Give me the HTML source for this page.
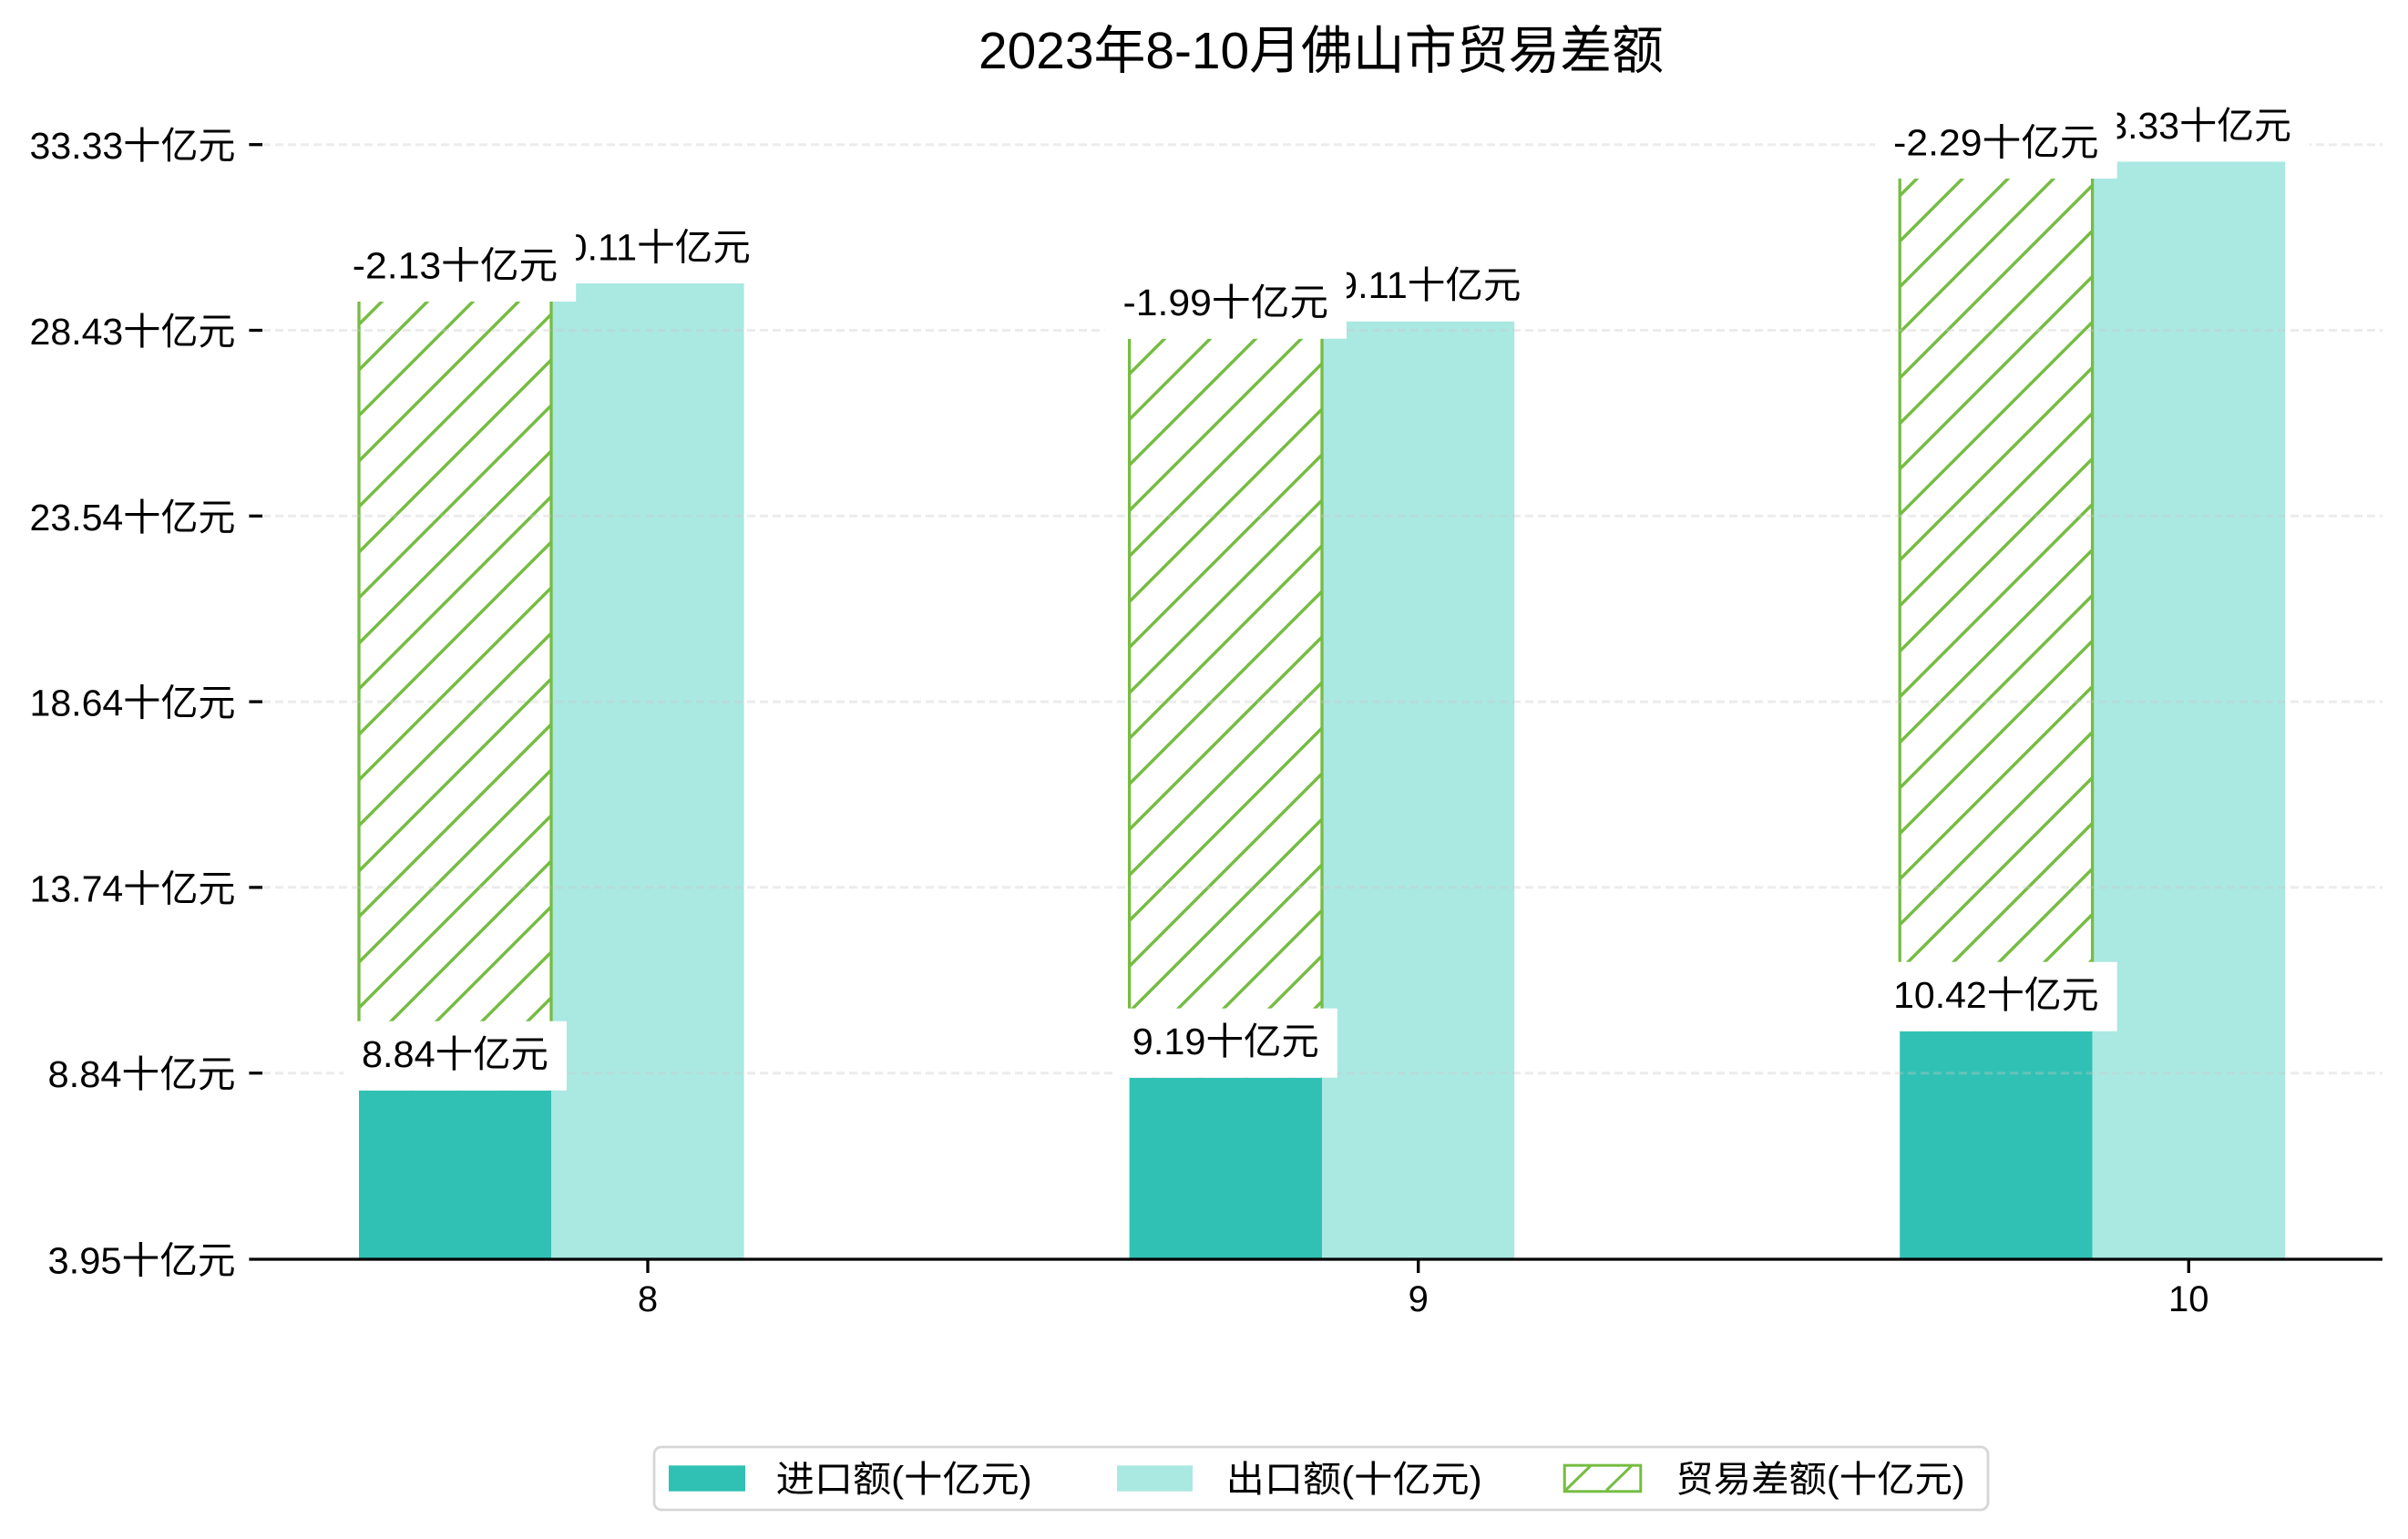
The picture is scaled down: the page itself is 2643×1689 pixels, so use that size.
<!DOCTYPE html>
<html>
<head>
<meta charset="utf-8">
<style>
  html, body { margin: 0; padding: 0; background: #ffffff; }
  svg { display: block; }
  text { font-family: "Liberation Sans", "Noto Sans CJK SC", sans-serif; fill: #000; }
</style>
</head>
<body>
<svg width="2643" height="1689" viewBox="0 0 2643 1689" xmlns="http://www.w3.org/2000/svg">
  <defs>
    <pattern id="hatch" patternUnits="userSpaceOnUse" width="50" height="50">
      <path d="M0,50 L50,0 M-10,10 L10,-10 M40,60 L60,40" stroke="#76bc43" stroke-width="3.5" fill="none"/>
    </pattern>
  </defs>
  <rect x="0" y="0" width="2643" height="1689" fill="#ffffff"/>

  <!-- Title -->
  <text x="1450" y="75" font-size="57" text-anchor="middle" textLength="752" lengthAdjust="spacingAndGlyphs">2023年8-10月佛山市贸易差额</text>

  <!-- Bars group 8 -->
  <rect x="394" y="1196.7" width="211" height="185.3" fill="#30c1b4"/>
  <rect x="394" y="331" width="211" height="865.7" fill="#ffffff"/>
  <rect x="394" y="331" width="211" height="865.7" fill="url(#hatch)"/>
  <rect x="605" y="311" width="211.6" height="1071" fill="#aae8e2"/>
  <line x1="394" y1="331" x2="394" y2="1196.7" stroke="#76bc43" stroke-width="3.3"/>
  <line x1="605" y1="331" x2="605" y2="1196.7" stroke="#76bc43" stroke-width="3.3"/>

  <!-- Bars group 9 -->
  <rect x="1239.6" y="1182.7" width="211.4" height="199.3" fill="#30c1b4"/>
  <rect x="1239.6" y="371.7" width="211.4" height="811" fill="#ffffff"/>
  <rect x="1239.6" y="371.7" width="211.4" height="811" fill="url(#hatch)"/>
  <rect x="1451" y="352.7" width="211.2" height="1029.3" fill="#aae8e2"/>
  <line x1="1239.6" y1="371.7" x2="1239.6" y2="1182.7" stroke="#76bc43" stroke-width="3.3"/>
  <line x1="1451" y1="371.7" x2="1451" y2="1182.7" stroke="#76bc43" stroke-width="3.3"/>

  <!-- Bars group 10 -->
  <rect x="2085.2" y="1131.7" width="211.4" height="250.3" fill="#30c1b4"/>
  <rect x="2085.2" y="196" width="211.4" height="935.7" fill="#ffffff"/>
  <rect x="2085.2" y="196" width="211.4" height="935.7" fill="url(#hatch)"/>
  <rect x="2296.6" y="177.3" width="211.4" height="1204.7" fill="#aae8e2"/>
  <line x1="2085.2" y1="196" x2="2085.2" y2="1131.7" stroke="#76bc43" stroke-width="3.3"/>
  <line x1="2296.6" y1="196" x2="2296.6" y2="1131.7" stroke="#76bc43" stroke-width="3.3"/>

  <!-- Gridlines -->
  <g stroke="#c8c8c8" stroke-opacity="0.35" stroke-width="3" stroke-dasharray="9 5">
    <line x1="288" y1="158.7" x2="2615" y2="158.7"/>
    <line x1="288" y1="362.5" x2="2615" y2="362.5"/>
    <line x1="288" y1="566.3" x2="2615" y2="566.3"/>
    <line x1="288" y1="770.1" x2="2615" y2="770.1"/>
    <line x1="288" y1="973.9" x2="2615" y2="973.9"/>
    <line x1="288" y1="1177.7" x2="2615" y2="1177.7"/>
  </g>

  <!-- Export labels -->
  <rect x="578.2" y="235" width="265.5" height="76" fill="#ffffff"/>
  <text x="711" y="285.5" font-size="41" text-anchor="middle" textLength="225.5" lengthAdjust="spacingAndGlyphs">30.11十亿元</text>
  <rect x="1424" y="276.7" width="265.5" height="76" fill="#ffffff"/>
  <text x="1556.7" y="327.2" font-size="41" text-anchor="middle" textLength="225.5" lengthAdjust="spacingAndGlyphs">29.11十亿元</text>
  <rect x="2269.5" y="101.3" width="265.5" height="76" fill="#ffffff"/>
  <text x="2402.3" y="151.8" font-size="41" text-anchor="middle" textLength="225.5" lengthAdjust="spacingAndGlyphs">33.33十亿元</text>

  <!-- Balance labels -->
  <rect x="366.7" y="255" width="265.5" height="76" fill="#ffffff"/>
  <text x="499.5" y="305.5" font-size="41" text-anchor="middle" textLength="225.5" lengthAdjust="spacingAndGlyphs">-2.13十亿元</text>
  <rect x="1212.5" y="295.7" width="265.5" height="76" fill="#ffffff"/>
  <text x="1345.3" y="346.2" font-size="41" text-anchor="middle" textLength="225.5" lengthAdjust="spacingAndGlyphs">-1.99十亿元</text>
  <rect x="2058.2" y="120" width="265.5" height="76" fill="#ffffff"/>
  <text x="2190.9" y="170.5" font-size="41" text-anchor="middle" textLength="225.5" lengthAdjust="spacingAndGlyphs">-2.29十亿元</text>

  <!-- Import labels -->
  <rect x="377" y="1120.7" width="245" height="76" fill="#ffffff"/>
  <text x="499.5" y="1171.2" font-size="41" text-anchor="middle" textLength="205" lengthAdjust="spacingAndGlyphs">8.84十亿元</text>
  <rect x="1222.8" y="1106.7" width="245" height="76" fill="#ffffff"/>
  <text x="1345.3" y="1157.2" font-size="41" text-anchor="middle" textLength="205" lengthAdjust="spacingAndGlyphs">9.19十亿元</text>
  <rect x="2058.2" y="1055.7" width="265.5" height="76" fill="#ffffff"/>
  <text x="2190.9" y="1106.2" font-size="41" text-anchor="middle" textLength="225.5" lengthAdjust="spacingAndGlyphs">10.42十亿元</text>

  <!-- Axis spine and ticks -->
  <line x1="273.4" y1="1382" x2="2615" y2="1382" stroke="#000" stroke-width="3.3"/>
  <g stroke="#000" stroke-width="3.3">
    <line x1="273.4" y1="158.7" x2="288" y2="158.7"/>
    <line x1="273.4" y1="362.5" x2="288" y2="362.5"/>
    <line x1="273.4" y1="566.3" x2="288" y2="566.3"/>
    <line x1="273.4" y1="770.1" x2="288" y2="770.1"/>
    <line x1="273.4" y1="973.9" x2="288" y2="973.9"/>
    <line x1="273.4" y1="1177.7" x2="288" y2="1177.7"/>
    <line x1="711" y1="1382" x2="711" y2="1397"/>
    <line x1="1556.7" y1="1382" x2="1556.7" y2="1397"/>
    <line x1="2402.3" y1="1382" x2="2402.3" y2="1397"/>
  </g>

  <!-- Y tick labels -->
  <g font-size="41" text-anchor="end">
    <text x="258.5" y="174.2" textLength="226" lengthAdjust="spacingAndGlyphs">33.33十亿元</text>
    <text x="258.5" y="378" textLength="226" lengthAdjust="spacingAndGlyphs">28.43十亿元</text>
    <text x="258.5" y="581.8" textLength="226" lengthAdjust="spacingAndGlyphs">23.54十亿元</text>
    <text x="258.5" y="785.6" textLength="226" lengthAdjust="spacingAndGlyphs">18.64十亿元</text>
    <text x="258.5" y="989.4" textLength="226" lengthAdjust="spacingAndGlyphs">13.74十亿元</text>
    <text x="258.5" y="1193.2" textLength="206" lengthAdjust="spacingAndGlyphs">8.84十亿元</text>
    <text x="258.5" y="1397.5" textLength="206" lengthAdjust="spacingAndGlyphs">3.95十亿元</text>
  </g>

  <!-- X tick labels -->
  <g font-size="40" text-anchor="middle">
    <text x="711" y="1439">8</text>
    <text x="1556.7" y="1439">9</text>
    <text x="2402.3" y="1439">10</text>
  </g>

  <!-- Legend -->
  <rect x="718" y="1588" width="1464" height="69" rx="8" ry="8" fill="#ffffff" stroke="#d6d6d6" stroke-width="2.8"/>
  <rect x="734" y="1608.3" width="84" height="28.4" fill="#30c1b4"/>
  <text x="851.7" y="1637" font-size="40" textLength="281" lengthAdjust="spacingAndGlyphs">进口额(十亿元)</text>
  <rect x="1226" y="1608.3" width="83" height="28.4" fill="#aae8e2"/>
  <text x="1345.7" y="1637" font-size="40" textLength="281" lengthAdjust="spacingAndGlyphs">出口额(十亿元)</text>
  <rect x="1717.2" y="1608.2" width="83.6" height="28.6" fill="#ffffff" stroke="#76bc43" stroke-width="3"/>
  <line x1="1718.3" y1="1635.5" x2="1745.5" y2="1609" stroke="#76bc43" stroke-width="3"/>
  <line x1="1763.3" y1="1635.5" x2="1790.5" y2="1609" stroke="#76bc43" stroke-width="3"/>
  <text x="1839.3" y="1637" font-size="40" textLength="317.4" lengthAdjust="spacingAndGlyphs">贸易差额(十亿元)</text>
</svg>
</body>
</html>
